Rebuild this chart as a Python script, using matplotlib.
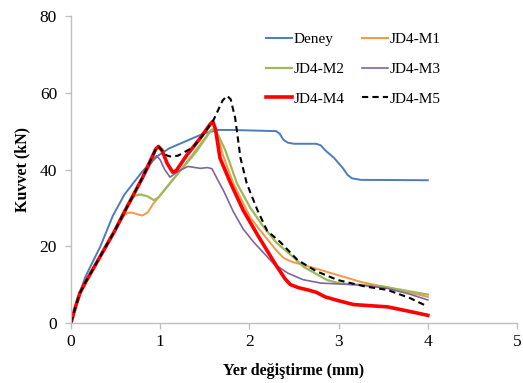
import matplotlib.pyplot as plt

plt.rcParams['font.family'] = ['Liberation Serif', 'DejaVu Serif']

# Deney
deney_x = [0, 0.05, 0.1, 0.16, 0.33, 0.47, 0.6, 0.8, 0.97, 1.1, 1.3, 1.5, 1.65, 1.8, 2.3,
           2.34, 2.38, 2.43, 2.5, 2.75, 2.8, 2.85, 2.95, 3.05, 3.1, 3.15, 3.25, 4.0]
deney_y = [0, 4.5, 8, 12, 20, 28, 33.5, 39.5, 43.5, 45.5, 47.5, 49.5, 50.3, 50.3, 50.0,
           49.3, 47.8, 47, 46.7, 46.7, 46.3, 45, 43, 40.3, 38.6, 37.7, 37.3, 37.2]

# JD4-M1
m1_x = [0, 0.05, 0.1, 0.16, 0.49, 0.6, 0.64, 0.68, 0.75, 0.8, 0.86, 0.92, 0.98, 1.2, 1.4,
        1.57, 1.6, 1.65, 1.7, 1.82, 2.01, 2.16, 2.3, 2.38, 2.45, 2.5, 2.8, 3.25, 3.6, 4.0]
m1_y = [0, 4.2, 7.8, 10.5, 24, 28.2, 28.7, 28.8, 28.3, 28.0, 28.8, 31, 32.7, 39, 45,
        50.3, 50.5, 48.5, 44, 36.4, 27.5, 23, 19, 17, 16.2, 15.8, 13.8, 10.7, 9, 6.8]

# JD4-M2
m2_x = [0, 0.05, 0.1, 0.16, 0.49, 0.6, 0.66, 0.72, 0.78, 0.86, 0.93, 0.98, 1.2, 1.4,
        1.57, 1.6, 1.65, 1.73, 1.86, 2.01, 2.16, 2.3, 2.5, 2.61, 2.87, 3.02, 3.5, 4.0]
m2_y = [0, 4.2, 7.8, 10.5, 24, 29, 31.8, 33.2, 33.5, 33.0, 32.0, 32.7, 39, 44.5,
        50.2, 50.6, 49, 45, 36.4, 30, 25, 21, 17, 14.6, 11.2, 10.3, 9.5, 7.4]

# JD4-M3
m3_x = [0, 0.05, 0.1, 0.16, 0.49, 0.6, 0.8, 0.93, 0.96, 1.0, 1.05, 1.11, 1.2, 1.31, 1.45,
        1.53, 1.58, 1.64, 1.71, 1.82, 1.93, 2.05, 2.27, 2.43, 2.6, 2.8, 3.25, 3.55, 3.8, 4.0]
m3_y = [0, 4.2, 7.8, 10.5, 24, 29, 37.5, 43.0, 43.6, 42.5, 40, 38, 39.5, 40.8, 40.3,
        40.5, 40.2, 37.5, 34.5, 29, 24.5, 21, 15.5, 13, 11.3, 10.4, 9.9, 9, 7.5, 6]

# JD4-M4
m4_x = [0, 0.05, 0.1, 0.16, 0.49, 0.6, 0.8, 0.95, 0.98, 1.02, 1.08, 1.14, 1.18, 1.3,
        1.45, 1.56, 1.59, 1.62, 1.67, 1.79, 1.93, 2.09, 2.3, 2.4, 2.46, 2.55, 2.66,
        2.75, 2.85, 3.0, 3.17, 3.55, 3.8, 4.0]
m4_y = [0, 4.2, 7.8, 10.5, 24, 29, 37.8, 45.3, 46, 45, 41.5, 39.3, 39.7, 43.8,
        48.2, 51.8, 52.5, 50.5, 43, 36.4, 29.4, 23, 15, 11.5, 10, 9.2, 8.6,
        8.0, 6.8, 5.8, 4.8, 4.2, 3, 2]

# JD4-M5
m5_x = [0, 0.05, 0.1, 0.16, 0.49, 0.6, 0.8, 0.95, 0.98, 1.02, 1.06, 1.11, 1.2, 1.37, 1.48,
        1.6, 1.7, 1.75, 1.79, 1.84, 1.9, 1.97, 2.09, 2.2, 2.35, 2.54, 2.75, 2.99, 3.3,
        3.55, 3.8, 3.98]
m5_y = [0, 4.2, 7.8, 10.5, 24, 29, 37.8, 45.3, 46, 45, 43.8, 43.4, 43.6, 45.8, 49,
        53, 58, 59.2, 58.3, 53.5, 43, 36.4, 29.4, 24, 21, 16.4, 13.5, 11.2, 9.5,
        8.6, 6.5, 4.5]

fig = plt.figure(figsize=(5.23, 3.83), dpi=100)
ax = fig.add_axes([71 / 523, 1 - 323 / 383, 446 / 523, 307 / 383])

l0, = ax.plot(deney_x, deney_y, color='#4a7ebb', lw=1.4, label='Deney')
l1, = ax.plot(m1_x, m1_y, color='#f79646', lw=1.4, label='JD4-M1')
l2, = ax.plot(m2_x, m2_y, color='#9bbb59', lw=1.6, label='JD4-M2')
l3, = ax.plot(m3_x, m3_y, color='#8064a2', lw=1.2, label='JD4-M3')
l4, = ax.plot(m4_x, m4_y, color='#ff0000', lw=2.6, label='JD4-M4')
l5, = ax.plot(m5_x, m5_y, color='black', lw=1.5, ls=(0, (3, 2)), label='JD4-M5')
for ln in (l0, l1, l2, l3, l4, l5):
    ln.set_solid_joinstyle('round')
    ln.set_dash_joinstyle('round')

ax.set_xlim(0, 5)
ax.set_ylim(0, 80)
ax.set_xticks([0, 1, 2, 3, 4, 5])
ax.set_yticks([0, 20, 40, 60, 80])

for s in ['top', 'right']:
    ax.spines[s].set_visible(False)
for s in ['left', 'bottom']:
    ax.spines[s].set_color('#bfbfbf')
    ax.spines[s].set_linewidth(1.0)
ax.tick_params(direction='out', length=4, width=1, color='#bfbfbf',
               labelsize=12.5)
ax.tick_params(axis='y', pad=6)
ax.tick_params(axis='x', pad=4)

ax.set_xlabel('Yer değiştirme (mm)', fontsize=11.5, fontweight='bold', labelpad=9)
ax.set_ylabel('Kuvvet (kN)', fontsize=11.5, fontweight='bold', labelpad=7)

# row-major order like the original legend
handles = [l0, l2, l4, l1, l3, l5]
ax.legend(handles, [h.get_label() for h in handles], ncol=2, frameon=False,
          fontsize=11, loc='upper left',
          bbox_to_anchor=(258 / 523, 1 - 25 / 383), bbox_transform=fig.transFigure,
          borderpad=0, handlelength=1.7, handletextpad=0.15, columnspacing=1.1,
          labelspacing=1.05)

fig.savefig('out.png', dpi=100)
